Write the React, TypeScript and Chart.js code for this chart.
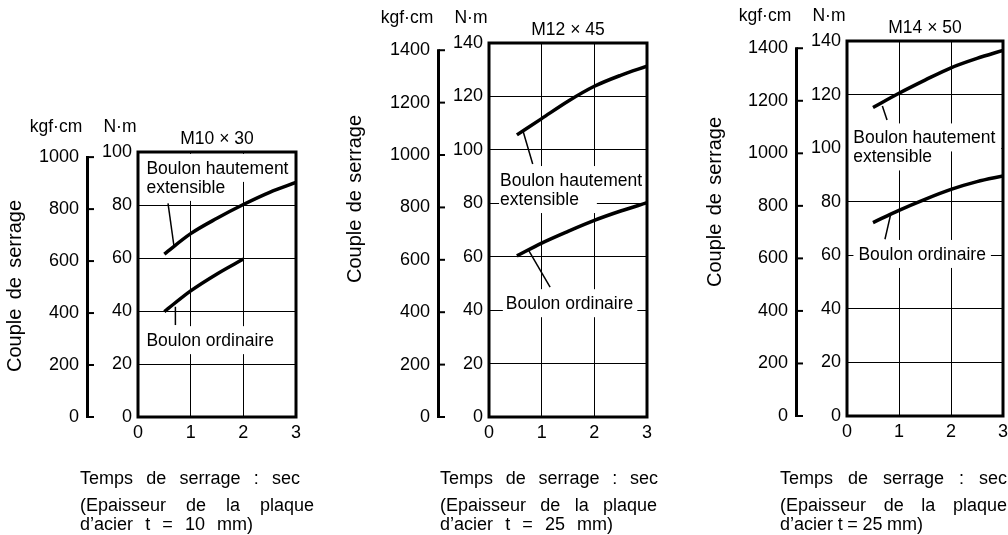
import React, { useEffect, useRef } from 'react';
import { Chart, registerables } from 'chart.js';

Chart.register(...registerables);

// ---------- data ----------
const KGF_CM_IN_NM = 0.0980665;

const timeTicks = [0, 1, 2, 3];
const nmTicksM10 = [0, 20, 40, 60, 80, 100];
const nmTicksM12 = [0, 20, 40, 60, 80, 100, 120, 140];
const kgfTicksM10 = [0, 200, 400, 600, 800, 1000];
const kgfTicksM12 = [0, 200, 400, 600, 800, 1000, 1200, 1400];

const panelTitles = ['M10 × 30', 'M12 × 45', 'M14 × 50'];
const plateThickness = [10, 25, 25];

// M10 x 30
const m10HighTime = [0.5, 1, 1.5, 2, 2.5, 3];
const m10HighTorque = [61.5, 69.2, 75, 80.2, 84.8, 88.5];
const m10OrdTime = [0.5, 1, 1.5, 2];
const m10OrdTorque = [39.8, 47.6, 54, 59.6];

// M12 x 45
const m12Time = [0.53, 1, 1.5, 2, 2.5, 3];
const m12HighTorque = [105.6, 111.7, 118.2, 123.8, 127.9, 131.3];
const m12OrdTorque = [60.3, 65.1, 69.5, 73.6, 77.1, 80.2];

// M14 x 50
const m14Time = [0.5, 1, 1.5, 2, 2.5, 3];
const m14HighTorque = [115.2, 120.5, 125.4, 130, 133.5, 136.5];
const m14OrdTorque = [72.2, 76.8, 80.9, 84.6, 87.5, 89.6];

const highLabel = ['Boulon hautement', 'extensible'];
const ordLabel = ['Boulon ordinaire'];
const yAxisTitle = 'Couple de serrage';
const kgfUnit = 'kgf·cm';
const nmUnit = 'N·m';

// ---------- layout / style ----------
const CW = 1030;
const CH = 535;
const FONT = '"Liberation Sans", Arial, Helvetica, sans-serif';
const FS_TICK = 18;
const FS_TEXT = 17.5;
const FS_YTITLE = 20;
const FS_CAP = 18;
const LH = 19;

type Ann = { x: number; y: number; lines: string[]; padL: number; padR: number[]; leader: number[] };
type PanelCfg = {
  title: string;
  yMax: number;
  nmTicks: number[];
  kgfTicks: number[];
  high: { x: number[]; y: number[] };
  ord: { x: number[]; y: number[] };
  area: { l: number; r: number; t: number; b: number };
  yTitle: { x: number; y: number; w: number };
  cap: { x: number; ys: number[]; ws: number[]; lines: string[] };
  anns: Ann[];
};

const zip = (xs: number[], ys: number[]) => xs.map((x, i) => ({ x, y: ys[i] }));
const captionLines = (t: number) => ['Temps de serrage : sec', '(Epaisseur de la plaque', `d’acier t = ${t} mm)`];
const CAP_Y = [484, 511, 530];

const PANELS: PanelCfg[] = [
  {
    title: panelTitles[0],
    yMax: 100,
    nmTicks: nmTicksM10,
    kgfTicks: kgfTicksM10,
    high: { x: m10HighTime, y: m10HighTorque },
    ord: { x: m10OrdTime, y: m10OrdTorque },
    area: { l: 138, r: 296, t: 152, b: 417 },
    yTitle: { x: 15, y: 286, w: 172 },
    cap: { x: 80, ys: CAP_Y, ws: [220, 234, 173], lines: captionLines(plateThickness[0]) },
    anns: [
      { x: 0.16, y: 94, lines: highLabel, padL: 4, padR: [4, 4], leader: [0.57, 80.6, 0.68, 64.9] },
      { x: 0.16, y: 29, lines: ordLabel, padL: 4, padR: [4], leader: [0.71, 41.6, 0.71, 34.7] },
    ],
  },
  {
    title: panelTitles[1],
    yMax: 140,
    nmTicks: nmTicksM12,
    kgfTicks: kgfTicksM12,
    high: { x: m12Time, y: m12HighTorque },
    ord: { x: m12Time, y: m12OrdTorque },
    area: { l: 489, r: 647, t: 43, b: 417 },
    yTitle: { x: 355, y: 199, w: 168 },
    cap: { x: 440, ys: CAP_Y, ws: [218, 217, 173], lines: captionLines(plateThickness[1]) },
    anns: [
      { x: 0.21, y: 88.7, lines: highLabel, padL: 1, padR: [6, 18], leader: [0.65, 106.8, 0.83, 94.7] },
      { x: 0.32, y: 42.6, lines: ordLabel, padL: 3, padR: [4], leader: [0.75, 62.5, 1.16, 48.6] },
    ],
  },
  {
    title: panelTitles[2],
    yMax: 140,
    nmTicks: nmTicksM12,
    kgfTicks: kgfTicksM12,
    high: { x: m14Time, y: m14HighTorque },
    ord: { x: m14Time, y: m14OrdTorque },
    area: { l: 847, r: 1003, t: 41, b: 416 },
    yTitle: { x: 715, y: 202, w: 170 },
    cap: { x: 780, ys: CAP_Y, ws: [227, 227, 143], lines: captionLines(plateThickness[2]) },
    anns: [
      { x: 0.12, y: 104, lines: highLabel, padL: 6, padR: [6, 6], leader: [0.68, 115.7, 0.77, 110.5] },
      { x: 0.22, y: 60.5, lines: ordLabel, padL: 5, padR: [5], leader: [0.84, 75.3, 0.73, 66] },
    ],
  },
];

function drawJustified(ctx: CanvasRenderingContext2D, text: string, x: number, y: number, width: number) {
  const words = text.split(' ');
  const ws = words.map((w) => ctx.measureText(w).width);
  const total = ws.reduce((a, b) => a + b, 0);
  const gap = words.length > 1 ? (width - total) / (words.length - 1) : 0;
  let cx = x;
  words.forEach((w, i) => {
    ctx.fillText(w, cx, y);
    cx += ws[i] + gap;
  });
}

function makeDecor(p: PanelCfg) {
  return {
    id: 'decor',
    beforeDatasetsDraw(chart: any) {
      const { ctx } = chart;
      const x = chart.scales.x;
      const y = chart.scales.y;
      ctx.save();
      ctx.font = `${FS_TEXT}px ${FONT}`;
      // white boxes behind the labels
      ctx.fillStyle = '#fff';
      p.anns.forEach((a) => {
        const lx = x.getPixelForValue(a.x);
        const cy = y.getPixelForValue(a.y);
        a.lines.forEach((t, i) => {
          const w = ctx.measureText(t).width;
          ctx.fillRect(lx - a.padL, cy + i * LH - 14, w + a.padL + a.padR[i], 28);
        });
      });
      // label texts
      ctx.fillStyle = '#000';
      ctx.textAlign = 'left';
      ctx.textBaseline = 'middle';
      p.anns.forEach((a) => {
        const lx = x.getPixelForValue(a.x);
        const cy = y.getPixelForValue(a.y);
        a.lines.forEach((t, i) => ctx.fillText(t, lx, cy + i * LH + 1));
      });
      // leader lines
      ctx.strokeStyle = '#000';
      ctx.lineWidth = 1.5;
      p.anns.forEach((a) => {
        const [x1, y1, x2, y2] = a.leader;
        ctx.beginPath();
        ctx.moveTo(x.getPixelForValue(x1), y.getPixelForValue(y1));
        ctx.lineTo(x.getPixelForValue(x2), y.getPixelForValue(y2));
        ctx.stroke();
      });
      ctx.restore();
    },
    afterDatasetsDraw(chart: any) {
      const { ctx, chartArea: ca } = chart;
      ctx.save();
      ctx.strokeStyle = '#000';
      ctx.lineWidth = 3;
      ctx.strokeRect(ca.left, ca.top, ca.right - ca.left, ca.bottom - ca.top);
      ctx.restore();
    },
    afterDraw(chart: any) {
      const { ctx, chartArea: ca } = chart;
      const k = chart.scales.y2;
      ctx.save();
      ctx.strokeStyle = '#000';
      // kgf·cm axis line with inward ticks
      const lineX = k.right - 6.5;
      const vals = p.kgfTicks;
      const yTop = k.getPixelForValue(vals[vals.length - 1]);
      const yBot = k.getPixelForValue(vals[0]);
      ctx.lineWidth = 3;
      ctx.beginPath();
      ctx.moveTo(lineX, yTop - 1);
      ctx.lineTo(lineX, yBot + 1);
      ctx.stroke();
      ctx.lineWidth = 2;
      vals.forEach((v) => {
        const py = k.getPixelForValue(v);
        ctx.beginPath();
        ctx.moveTo(lineX, py);
        ctx.lineTo(k.right, py);
        ctx.stroke();
      });
      // unit headers and panel title
      ctx.fillStyle = '#000';
      ctx.font = `${FS_TEXT}px ${FONT}`;
      ctx.textAlign = 'center';
      ctx.textBaseline = 'middle';
      ctx.fillText(kgfUnit, ca.left - 82, ca.top - 25);
      ctx.fillText(nmUnit, ca.left - 18, ca.top - 25);
      ctx.fillText(p.title, (ca.left + ca.right) / 2, ca.top - 13);
      // rotated y title
      ctx.save();
      ctx.font = `${FS_YTITLE}px ${FONT}`;
      ctx.translate(p.yTitle.x, p.yTitle.y);
      ctx.rotate(-Math.PI / 2);
      ctx.textAlign = 'left';
      drawJustified(ctx, yAxisTitle, -p.yTitle.w / 2, 0, p.yTitle.w);
      ctx.restore();
      // captions
      ctx.font = `${FS_CAP}px ${FONT}`;
      ctx.textAlign = 'left';
      ctx.textBaseline = 'alphabetic';
      p.cap.lines.forEach((t, i) => drawJustified(ctx, t, p.cap.x, p.cap.ys[i], p.cap.ws[i]));
      ctx.restore();
    },
  };
}

function buildConfig(p: PanelCfg): any {
  const tickFont = { family: FONT, size: FS_TICK };
  const grid = { color: '#000', lineWidth: 1, drawTicks: false };
  const lineDs = (xs: number[], ys: number[]) => ({
    data: zip(xs, ys),
    borderColor: '#000',
    borderWidth: 3.5,
    pointRadius: 0,
    fill: false,
    cubicInterpolationMode: 'monotone',
    borderCapStyle: 'butt',
  });
  return {
    type: 'line',
    data: { datasets: [lineDs(p.high.x, p.high.y), lineDs(p.ord.x, p.ord.y)] },
    plugins: [makeDecor(p)],
    options: {
      animation: false,
      responsive: false,
      maintainAspectRatio: false,
      layout: {
        padding: { left: p.area.l - 104, right: CW - p.area.r, top: p.area.t, bottom: CH - p.area.b - 30 },
      },
      plugins: { legend: { display: false }, tooltip: { enabled: false }, title: { display: false } },
      scales: {
        x: {
          type: 'linear',
          min: 0,
          max: 3,
          afterBuildTicks: (s: any) => { s.ticks = timeTicks.map((v) => ({ value: v })); },
          ticks: { color: '#000', font: tickFont, padding: 5, maxRotation: 0, autoSkip: false, callback: (v: any) => String(v) },
          grid,
          border: { display: false },
          afterFit: (s: any) => { s.height = 30; },
        },
        y: {
          type: 'linear',
          position: 'left',
          weight: 0,
          min: 0,
          max: p.yMax,
          afterBuildTicks: (s: any) => { s.ticks = p.nmTicks.map((v) => ({ value: v })); },
          ticks: { color: '#000', font: tickFont, padding: 6, autoSkip: false, callback: (v: any) => String(v) },
          grid,
          border: { display: false },
          afterFit: (s: any) => { s.width = 44; },
        },
        y2: {
          type: 'linear',
          position: 'left',
          weight: 1,
          min: 0,
          max: p.yMax / KGF_CM_IN_NM,
          afterBuildTicks: (s: any) => { s.ticks = p.kgfTicks.map((v) => ({ value: v })); },
          ticks: { color: '#000', font: tickFont, padding: 15, autoSkip: false, callback: (v: any) => String(v) },
          grid: { display: false, drawTicks: false },
          border: { display: false },
          afterFit: (s: any) => { s.width = 60; },
        },
      },
    },
  };
}

function Panel({ cfg }: { cfg: PanelCfg }) {
  const ref = useRef<HTMLCanvasElement>(null);
  useEffect(() => {
    if (!ref.current) return;
    const chart = new Chart(ref.current, buildConfig(cfg));
    return () => chart.destroy();
  }, [cfg]);
  return (
    <canvas
      ref={ref}
      width={CW}
      height={CH}
      style={{ position: 'absolute', left: 0, top: 0, width: CW, height: CH }}
    />
  );
}

export default function App() {
  return (
    <div style={{ position: 'fixed', left: 0, top: 0, width: 1008, height: 535, overflow: 'hidden', background: '#fff' }}>
      {PANELS.map((p, i) => (
        <Panel key={i} cfg={p} />
      ))}
    </div>
  );
}
